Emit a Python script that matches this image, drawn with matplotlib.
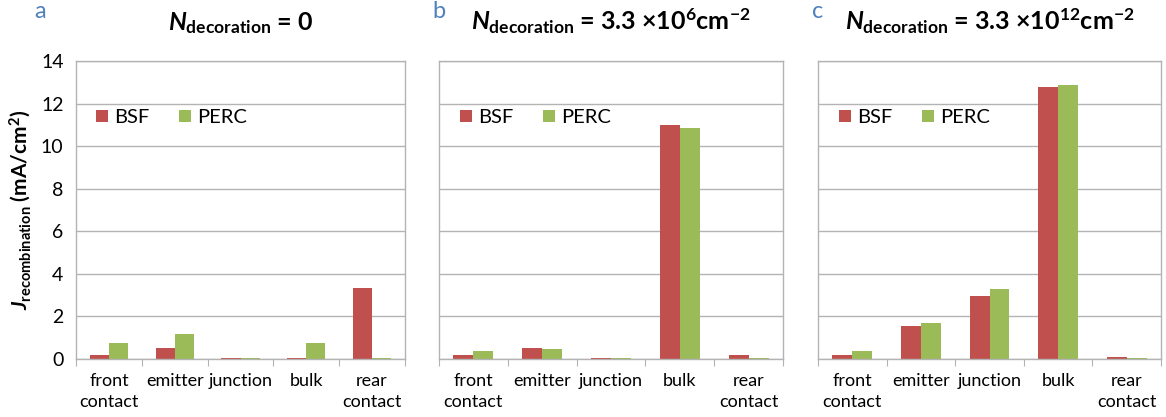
import numpy as np
import matplotlib
matplotlib.use('Agg')
import matplotlib.pyplot as plt

plt.rcParams['font.family'] = ['Lato', 'DejaVu Sans']
plt.rcParams['mathtext.fontset'] = 'custom'
plt.rcParams['mathtext.rm'] = 'Lato:bold'
plt.rcParams['mathtext.it'] = 'Lato:bold:italic'
plt.rcParams['mathtext.bf'] = 'Lato:bold'

# ---- data ----
categories = ['front\ncontact', 'emitter', 'junction', 'bulk', 'rear\ncontact']
series_names = ['BSF', 'PERC']

bsf_a = [0.21, 0.53, 0.04, 0.04, 3.33]
perc_a = [0.74, 1.19, 0.04, 0.74, 0.07]

bsf_b = [0.17, 0.50, 0.05, 11.0, 0.17]
perc_b = [0.36, 0.45, 0.05, 10.84, 0.05]

bsf_c = [0.17, 1.57, 2.96, 12.76, 0.08]
perc_c = [0.36, 1.70, 3.29, 12.86, 0.05]

panel_letters = ['a', 'b', 'c']
panel_titles = [r'$N_{\mathrm{decoration}}$ = 0',
                r'$N_{\mathrm{decoration}}$ = 3.3 ×10$^{6}$cm$^{-2}$',
                r'$N_{\mathrm{decoration}}$ = 3.3 ×10$^{12}$cm$^{-2}$']

yticks = [0, 2, 4, 6, 8, 10, 12, 14]

# ---- style ----
C_BSF = '#c0504d'
C_PERC = '#9bbb59'
GRID = '#b3b3b3'
LETTER = '#4f81bd'

W, H = 1166, 417
fig = plt.figure(figsize=(W / 100, H / 100), dpi=100)

# axes boxes in pixels: (left, right)
boxes = [(76, 405), (439, 783), (818, 1161)]
top, bottom = 61, 359

data = [(bsf_a, perc_a), (bsf_b, perc_b), (bsf_c, perc_c)]
x = np.arange(len(categories))
bw = 0.29

for i, ((l, r), (bsf, perc)) in enumerate(zip(boxes, data)):
    ax = fig.add_axes([l / W, 1 - bottom / H, (r - l) / W, (bottom - top) / H])
    ax.bar(x - bw / 2, bsf, bw, color=C_BSF, label=series_names[0], zorder=3)
    ax.bar(x + bw / 2, perc, bw, color=C_PERC, label=series_names[1], zorder=3)

    ax.set_xlim(-0.5, len(categories) - 0.5)
    ax.set_ylim(0, 14)
    ax.set_yticks(yticks)
    ax.yaxis.grid(True, color=GRID, lw=1.0, zorder=0)
    ax.tick_params(axis='y', length=0, labelsize=14, pad=9)
    if i > 0:
        ax.set_yticklabels([])

    # category boundary ticks + labels at centres
    ax.set_xticks(np.arange(-0.5, len(categories)), minor=False)
    ax.set_xticklabels([])
    ax.set_xticks(x, minor=True)
    ax.set_xticklabels(categories, minor=True, fontsize=13, linespacing=1.4)
    ax.tick_params(axis='x', which='major', length=5, color=GRID, direction='out')
    ax.tick_params(axis='x', which='minor', length=0, pad=10)

    for s in ax.spines.values():
        s.set_color(GRID)
        s.set_linewidth(1.0)
    ax.spines['bottom'].set_zorder(4)

    ax.set_title(panel_titles[i], fontsize=18, fontweight='bold', pad=22)
    ax.text(-0.11 if i == 0 else -0.0, 1.13, panel_letters[i], transform=ax.transAxes,
            fontsize=17, color=LETTER, ha='center', va='bottom')

    ax.legend(loc='center left', bbox_to_anchor=(0.06, 0.81), ncol=2,
              frameon=False, fontsize=14.5, handlelength=0.6, handleheight=0.6,
              handletextpad=0.3, columnspacing=1.5, borderaxespad=0, borderpad=0)

    if i == 0:
        ax.set_ylabel(r'$J_{\mathregular{recombination}}$ (mA/cm$^{2}$)',
                      fontsize=15, fontweight='bold', labelpad=6)

fig.savefig('out.png', dpi=100)
